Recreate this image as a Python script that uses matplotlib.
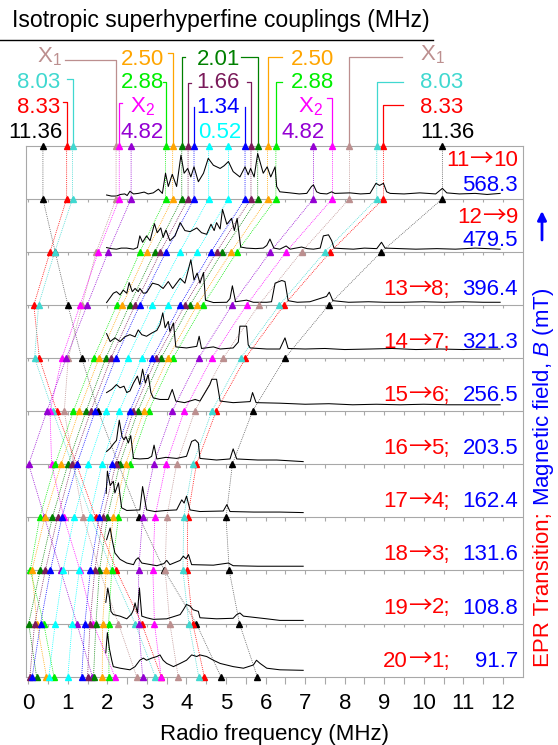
import numpy as np
import matplotlib.pyplot as plt
from matplotlib import transforms

plt.rcParams['font.family'] = ['Liberation Sans', 'DejaVu Sans']
plt.rcParams['mathtext.fontset'] = 'custom'
plt.rcParams['mathtext.rm'] = 'Liberation Sans'
plt.rcParams['mathtext.it'] = 'Liberation Sans:italic'

# EPR transitions (upper, lower level), top to bottom, and their fields (mT)
trans_from = ['11', '12', '13', '14', '15', '16', '17', '18', '19', '20']
trans_to = ['10', '9', '8', '7', '6', '5', '4', '3', '2', '1']
fields = ['568.3', '479.5', '396.4', '321.3', '256.5', '203.5', '162.4', '131.6', '108.8', '91.7']

# marker positions (MHz) of each coupling, low / high branch, one value per panel (top to bottom)
black_lo = [0.37, 0.68, 1.00, 1.35, 1.77, 2.28, 2.81, 3.44, 4.25, 4.87]
black_hi = [10.47, 8.93, 7.60, 6.49, 5.67, 5.16, 5.00, 5.08, 5.34, 5.79]
red_lo = [0.97, 0.55, 0.14, 0.28, 0.72, 1.22, 1.70, 2.23, 2.87, 3.36]
red_hi = [8.98, 7.64, 6.47, 5.49, 4.75, 4.25, 4.03, 4.02, 4.16, 4.45]
turq_lo = [1.12, 0.67, 0.26, 0.16, 0.62, 1.11, 1.59, 2.11, 2.70, 3.21]
turq_hi = [8.81, 7.50, 6.35, 5.37, 4.64, 4.16, 3.93, 3.91, 4.06, 4.31]
x1_lo = [2.22, 1.72, 1.36, 1.01, 0.91, 1.14, 1.39, 1.80, 2.28, 2.74]
x1_hi = [8.12, 6.91, 5.83, 4.93, 4.21, 3.75, 3.50, 3.46, 3.58, 3.79]
x2_lo = [2.30, 1.77, 1.31, 0.85, 0.55, 0.59, 0.90, 1.31, 1.64, 2.19]
x2_hi = [7.69, 6.52, 5.52, 4.64, 3.94, 3.48, 3.20, 3.15, 3.19, 3.36]
purple_lo = [2.60, 2.02, 1.49, 0.96, 0.47, 0.01, 0.41, 0.82, 1.23, 1.62]
purple_hi = [7.21, 6.12, 5.15, 4.31, 3.64, 3.17, 2.89, 2.79, 2.79, 2.89]
green_lo = [3.47, 2.82, 2.24, 1.65, 1.14, 0.68, 0.29, 0.05, 0.39, 0.65]
green_hi = [6.26, 5.28, 4.42, 3.66, 3.04, 2.58, 2.28, 2.11, 2.03, 2.04]
orange_lo = [3.65, 2.99, 2.38, 1.79, 1.28, 0.83, 0.42, 0.09, 0.22, 0.46]
orange_hi = [6.05, 5.13, 4.27, 3.53, 2.92, 2.46, 2.15, 1.97, 1.88, 1.87]
dkgreen_lo = [3.88, 3.20, 2.56, 1.96, 1.46, 1.00, 0.61, 0.30, 0.01, 0.21]
dkgreen_hi = [5.80, 4.91, 4.09, 3.36, 2.77, 2.31, 2.00, 1.80, 1.71, 1.65]
dkpurple_lo = [4.04, 3.34, 2.70, 2.09, 1.58, 1.11, 0.74, 0.43, 0.16, 0.04]
dkpurple_hi = [5.63, 4.76, 3.96, 3.24, 2.66, 2.21, 1.89, 1.68, 1.56, 1.50]
blue_lo = [4.19, 3.48, 2.82, 2.21, 1.69, 1.23, 0.85, 0.56, 0.31, 0.10]
blue_hi = [5.48, 4.62, 3.84, 3.14, 2.57, 2.11, 1.79, 1.57, 1.43, 1.35]
cyan_lo = [4.56, 3.83, 3.14, 2.51, 1.97, 1.52, 1.16, 0.88, 0.68, 0.52]
cyan_hi = [5.06, 4.26, 3.53, 2.87, 2.30, 1.86, 1.55, 1.29, 1.11, 1.00]

c_black, c_red, c_turq, c_x1, c_x2 = 'black', '#ff0000', '#40d8d0', '#bc8f8f', '#ff00ff'
c_purple, c_green, c_orange, c_dkgreen = '#9400d3', '#00ee00', '#ffa500', '#008000'
c_dkpurple, c_blue, c_cyan = '#7a1a5a', '#0000ff', '#00ffff'

branches = [
    (black_lo, c_black), (black_hi, c_black), (red_lo, c_red), (red_hi, c_red),
    (turq_lo, c_turq), (turq_hi, c_turq), (x1_lo, c_x1), (x1_hi, c_x1),
    (x2_lo, c_x2), (x2_hi, c_x2), (purple_lo, c_purple), (purple_hi, c_purple),
    (green_lo, c_green), (green_hi, c_green), (orange_lo, c_orange), (orange_hi, c_orange),
    (dkgreen_lo, c_dkgreen), (dkgreen_hi, c_dkgreen), (dkpurple_lo, c_dkpurple),
    (dkpurple_hi, c_dkpurple), (blue_lo, c_blue), (blue_hi, c_blue),
    (cyan_lo, c_cyan), (cyan_hi, c_cyan),
]

# ENDOR spectra (MHz, height in panel units), top to bottom
spec1 = [(1.98,.07),(2.10,.05),(2.23,.05),(2.33,.08),(2.44,.09),(2.50,.06),(2.57,.14),(2.66,.09),
         (2.78,.10),(2.93,.125),(3.03,.09),(3.16,.11),(3.29,.18),(3.39,.10),(3.47,.48),(3.54,.23),
         (3.64,.46),(3.75,.23),(3.86,.82),(3.94,.48),(4.03,.57),(4.11,.41),(4.19,.60),(4.30,.32),
         (4.43,.48),(4.55,.76),(4.68,.63),(4.85,.57),(4.95,.62),(5.06,.70),(5.18,.51),(5.35,.41),
         (5.48,.60),(5.56,.45),(5.62,.57),(5.71,.41),(5.80,.85),(5.94,.48),(6.04,.60),(6.13,.41),
         (6.24,.60),(6.28,.23),(6.36,.13),(6.62,.11),(6.85,.09),(7.04,.10),(7.16,.23),(7.21,.26),
         (7.29,.13),(7.38,.10),(7.55,.09),(7.67,.13),(7.75,.10),(8.13,.11),(8.40,.09),(8.64,.10),
         (8.79,.29),(8.88,.25),(8.98,.29),(9.06,.13),(9.15,.10),(9.50,.09),(9.90,.11),(10.30,.09),
         (10.47,.195),(10.58,.11),(10.90,.09),(11.30,.10),(11.60,.08),(11.93,.10)]
spec2 = [(1.98,.08),(2.10,.06),(2.23,.05),(2.35,.07),(2.49,.07),(2.66,.05),(2.76,.08),(2.82,.30),
         (2.89,.18),(2.99,.30),(3.08,.21),(3.19,.53),(3.26,.36),(3.35,.45),(3.41,.27),(3.48,.41),
         (3.58,.21),(3.71,.30),(3.84,.55),(3.96,.40),(4.09,.38),(4.26,.45),(4.38,.36),(4.51,.33),
         (4.62,.52),(4.70,.40),(4.76,.55),(4.85,.43),(4.91,.80),(5.02,.52),(5.14,.63),(5.21,.40),
         (5.28,.63),(5.37,.09),(5.52,.07),(5.75,.06),(5.94,.07),(6.03,.12),(6.11,.24),(6.21,.07),
         (6.36,.05),(6.52,.11),(6.62,.05),(6.91,.09),(7.05,.06),(7.21,.05),(7.38,.07),(7.46,.30),
         (7.59,.32),(7.67,.21),(7.73,.07),(7.95,.06),(8.22,.05),(8.50,.07),(8.81,.06),(8.93,.18),
         (9.02,.07),(9.40,.06),(9.80,.05),(10.33,.06),(10.80,.05),(11.30,.07),(11.93,.05)]
spec3 = [(1.98,.045),(2.15,.22),(2.23,.25),(2.32,.19),(2.40,.28),(2.49,.22),(2.55,.42),(2.63,.25),
         (2.70,.31),(2.78,.25),(2.82,.31),(2.91,.22),(2.99,.23),(3.14,.41),(3.29,.38),(3.41,.31),
         (3.54,.44),(3.65,.31),(3.75,.41),(3.84,.50),(3.96,.41),(4.11,.85),(4.19,.47),(4.27,.60),
         (4.34,.41),(4.43,.61),(4.48,.09),(4.68,.045),(5.02,.05),(5.10,.12),(5.16,.36),(5.24,.06),
         (5.52,.09),(5.69,.05),(6.03,.05),(6.15,.06),(6.24,.41),(6.41,.46),(6.49,.44),(6.57,.08),
         (6.80,.05),(7.12,.06),(7.54,.16),(7.61,.24),(7.70,.08),(8.10,.05),(8.60,.06),(9.00,.05),
         (9.48,.05),(10.00,.06),(10.50,.05),(11.00,.06),(11.50,.05),(11.93,.05)]
spec4 = [(1.98,.46),(2.07,.31),(2.19,.38),(2.32,.31),(2.44,.40),(2.57,.44),(2.70,.40),(2.78,.53),
         (2.87,.44),(2.99,.41),(3.12,.47),(3.25,.52),(3.33,.63),(3.40,.85),(3.46,.57),(3.54,.69),
         (3.58,.50),(3.67,.66),(3.73,.21),(4.00,.19),(4.26,.22),(4.32,.41),(4.38,.18),(4.68,.21),
         (4.85,.17),(5.18,.19),(5.31,.30),(5.35,.60),(5.52,.60),(5.56,.25),(5.61,.19),(6.03,.17),
         (6.36,.17),(6.49,.38),(6.57,.18),(7.00,.17),(7.50,.18),(8.00,.16),(8.64,.17),(9.20,.18),
         (9.80,.16),(10.40,.17),(11.00,.16),(11.50,.17),(11.93,.17)]
spec5 = [(1.98,.35),(2.11,.41),(2.23,.50),(2.32,.44),(2.42,.47),(2.49,.35),(2.57,.38),(2.66,.53),
         (2.76,.66),(2.82,.50),(2.89,.79),(2.96,.53),(3.03,.69),(3.10,.35),(3.16,.25),(3.33,.22),
         (3.54,.22),(3.64,.41),(3.73,.19),(3.95,.16),(4.22,.22),(4.34,.19),(4.59,.50),(4.64,.60),
         (4.76,.60),(4.85,.19),(5.18,.16),(5.61,.18),(5.67,.35),(5.76,.16),(6.36,.15),(7.00,.13),
         (7.60,.14),(8.20,.12),(8.80,.13),(9.40,.12),(10.00,.13),(10.60,.12),(11.20,.12),(11.93,.12)]
spec6 = [(1.98,.24),(2.07,.30),(2.15,.38),(2.23,.45),(2.30,.83),(2.37,.52),(2.42,.46),(2.47,.52),
         (2.53,.40),(2.59,.54),(2.66,.11),(2.82,.10),(3.03,.11),(3.12,.15),(3.18,.36),(3.25,.10),
         (3.48,.13),(3.75,.11),(4.00,.15),(4.13,.43),(4.22,.46),(4.30,.40),(4.34,.11),(4.76,.08),
         (5.10,.10),(5.18,.29),(5.27,.10),(5.80,.08),(6.28,.08),(6.95,.05)]
spec7 = [(1.97,.45),(2.00,.87),(2.07,.60),(2.15,.68),(2.19,.46),(2.28,.65),(2.36,.18),(2.49,.13),
         (2.82,.14),(2.89,.58),(2.99,.14),(3.20,.11),(3.48,.13),(3.75,.14),(3.88,.33),(3.94,.27),
         (4.00,.40),(4.09,.14),(4.34,.11),(4.93,.12),(5.02,.24),(5.10,.11),(5.70,.10),(6.36,.10),
         (6.95,.09)]
spec8 = [(1.98,.58),(2.07,.80),(2.12,.58),(2.19,.33),(2.32,.21),(2.49,.14),(2.66,.11),(2.72,.20),
         (2.78,.24),(2.87,.14),(3.25,.09),(3.43,.13),(3.50,.19),(3.58,.11),(3.84,.19),(3.92,.27),
         (3.99,.22),(4.05,.30),(4.13,.11),(4.68,.10),(5.06,.14),(5.18,.09),(5.80,.08),(6.36,.08),
         (6.95,.08)]
spec9 = [(1.96,.40),(2.01,.67),(2.05,.51),(2.09,.23),(2.15,.17),(2.32,.14),(2.49,.09),(2.61,.18),
         (2.66,.26),(2.70,.39),(2.76,.20),(2.81,.67),(2.87,.14),(2.99,.11),(3.16,.08),(3.50,.09),
         (3.84,.17),(3.92,.26),(4.00,.36),(4.09,.33),(4.17,.26),(4.30,.23),(4.34,.11),(4.76,.09),
         (5.18,.10),(5.27,.17),(5.35,.20),(5.44,.14),(6.03,.09),(6.36,.06),(6.95,.06)]
spec10 = [(1.96,.45),(2.00,.83),(2.05,.53),(2.11,.31),(2.15,.19),(2.32,.16),(2.57,.13),(2.70,.19),
          (2.82,.31),(2.91,.35),(2.99,.31),(3.12,.35),(3.25,.38),(3.33,.41),(3.41,.31),(3.50,.25),
          (3.67,.19),(3.84,.25),(4.00,.31),(4.13,.41),(4.26,.38),(4.34,.41),(4.51,.38),(4.68,.31),
          (4.85,.25),(5.18,.19),(5.44,.16),(5.69,.22),(5.77,.31),(5.86,.25),(6.03,.16),(6.36,.13),
          (6.95,.12)]
spectra = [spec1, spec2, spec3, spec4, spec5, spec6, spec7, spec8, spec9, spec10]

W, H = 558, 745
GRAY = '#a8a8a8'
fig = plt.figure(figsize=(W / 100, H / 100), dpi=100)
ax = fig.add_axes([26.3 / W, 1 - 676.7 / H, 496.4 / W, 531.1 / H])
ax.set_xlim(-0.05, 12.5)
ax.set_ylim(0, 10)


def fy(py):
    return 1 - py / H


def px2mhz(px):
    return (px - 28.3) / 39.55


levels = [10] + list(range(9, -1, -1))

# dotted guide lines and triangle markers
for xs, col in branches:
    path = [xs[0]] + xs
    lc = '0.35' if col == 'black' else col
    ax.plot(path, levels, color=lc, lw=0.6, ls=(0, (1, 1.3)), zorder=2, clip_on=False)
    ax.plot(path, levels, ls='none', marker='^', ms=4.2, color=col, mec=col,
            zorder=5, clip_on=False)

# panel separators with their small ticks
minor = np.arange(0, 12.01, 0.5)
for y in range(1, 10):
    ax.axhline(y, color=GRAY, lw=0.8, zorder=1)
    ax.vlines(minor, y - 0.065, y, color=GRAY, lw=0.8, zorder=1)

# spectra
for i, sp in enumerate(spectra):
    base = 9 - i
    f = [p[0] for p in sp]
    h = [p[1] + base for p in sp]
    ax.plot(f, h, color='black', lw=0.75, zorder=3)

for s in ax.spines.values():
    s.set_color(GRAY)
    s.set_linewidth(0.8)
ax.set_yticks([])
ax.set_xticks(range(13))
ax.set_xticks(minor, minor=True)
ax.tick_params(axis='x', which='both', direction='out', length=5, width=0.8, color=GRAY,
               labelsize=16, pad=7)
fig.text(274.5 / W, fy(740), 'Radio frequency (MHz)', ha='center', va='baseline', fontsize=16)

fig.canvas.draw()
r = fig.canvas.get_renderer()


def rtext(xpx, ypx, pieces):
    # pieces drawn right to left, right edge at xpx (figure pixels), baseline at ypx
    x = xpx
    for txt, col, fam, size in reversed(pieces):
        kw = {} if fam is None else {'family': fam}
        t = fig.text(x / W, fy(ypx), txt, color=col, ha='right', va='baseline',
                     fontsize=size, **kw)
        x = t.get_window_extent(renderer=r).x0


def arrow_piece():
    return ('→', 'red', 'Noto Sans CJK JP', 17)


# panel labels (baselines in figure pixels)
panel_base_px = [198.7 + 53.1 * i for i in range(10)]
rtext(518, 166, [(trans_from[0], 'red', None, 16), arrow_piece(), (trans_to[0], 'red', None, 16)])
rtext(518, 191, [(fields[0], 'blue', None, 16)])
rtext(518, 223, [(trans_from[1], 'red', None, 16), arrow_piece(), (trans_to[1], 'red', None, 16)])
rtext(518, 246, [(fields[1], 'blue', None, 16)])
for i in range(2, 10):
    yb = panel_base_px[i] - 10
    rtext(450, yb, [(trans_from[i], 'red', None, 16), arrow_piece(),
                    (trans_to[i] + ';', 'red', None, 16)])
    rtext(518, yb, [(fields[i], 'blue', None, 16)])

# header with coupling labels
fig.text(12 / W, fy(27.5), 'Isotropic superhyperfine couplings (MHz)', ha='left', va='baseline',
         fontsize=16.6)
ax.plot([0, 433 / W], [fy(39.5), fy(39.5)], color='black', lw=1.0,
        transform=fig.transFigure, clip_on=False)

top_labels = [
    ('X$_1$', c_x1, 36.7, 62), ('8.03', c_turq, 16.7, 88), ('8.33', c_red, 16.7, 113),
    ('11.36', c_black, 8.3, 138), ('2.50', c_orange, 120.7, 65), ('2.88', c_green, 120.7, 88),
    ('X$_2$', c_x2, 130, 112), ('4.82', c_purple, 120.7, 138), ('2.01', c_dkgreen, 196.7, 65),
    ('1.66', c_dkpurple, 196.7, 88), ('1.34', c_blue, 196.7, 113), ('0.52', c_cyan, 198.3, 138),
    ('2.50', c_orange, 290.7, 65), ('2.88', c_green, 290.7, 88), ('X$_2$', c_x2, 298.3, 112),
    ('4.82', c_purple, 281.7, 138), ('X$_1$', c_x1, 420, 60), ('8.03', c_turq, 420, 88),
    ('8.33', c_red, 420, 113), ('11.36', c_black, 420, 138),
]
for txt, col, px, py in top_labels:
    fig.text(px / W, fy(py), txt, color=col, ha='left', va='baseline', fontsize=16)

# connectors from labels down to the top markers: (colour, marker x, top y px, hook end px)
connectors = [
    (c_x1, x1_lo[0], 60, 65), (c_turq, turq_lo[0], 79, 67), (c_red, red_lo[0], 102, 63.5),
    (c_orange, orange_lo[0], 53, 168.5), (c_green, green_lo[0], 82, 163),
    (c_x2, x2_lo[0], 103, 122.5), (c_dkgreen, dkgreen_lo[0], 57, 185),
    (c_dkpurple, dkpurple_lo[0], 83, 191), (c_blue, blue_lo[0], 107, None),
    (c_dkgreen, dkgreen_hi[0], 57, 240.7), (c_dkpurple, dkpurple_hi[0], 82, 247.5),
    (c_blue, blue_hi[0], 107, None), (c_orange, orange_hi[0], 57, 282),
    (c_green, green_hi[0], 82, 282), (c_x2, x2_hi[0], 98, 327),
    (c_x1, x1_hi[0], 57, 402), (c_turq, turq_hi[0], 82, 403), (c_red, red_hi[0], 105, 403),
]
trans = transforms.blended_transform_factory(ax.transData, fig.transFigure)
for col, xm, ptop, hook in connectors:
    hx = xm if hook is None else px2mhz(hook)
    ax.plot([hx, xm, xm], [fy(ptop), fy(ptop), fy(145.6)], color=col, lw=0.9,
            transform=trans, clip_on=False, zorder=4)

# right-hand axis title
t1 = fig.text(549 / W, fy(667), 'EPR Transition;', color='red', rotation=90,
              rotation_mode='anchor', ha='left', va='baseline', fontsize=16)
bb = t1.get_window_extent(renderer=r)
fig.text(549 / W, (bb.y1 + 6) / H, 'Magnetic field, $B$ (mT)', color='blue', rotation=90,
         rotation_mode='anchor', ha='left', va='baseline', fontsize=16)
ax.annotate('', xy=(542 / W, fy(211)), xytext=(542 / W, fy(240)), xycoords='figure fraction',
            textcoords='figure fraction',
            arrowprops=dict(arrowstyle='-|>', color='blue', lw=2, mutation_scale=13,
                            shrinkA=0, shrinkB=0))

fig.savefig('out.png', dpi=100)
